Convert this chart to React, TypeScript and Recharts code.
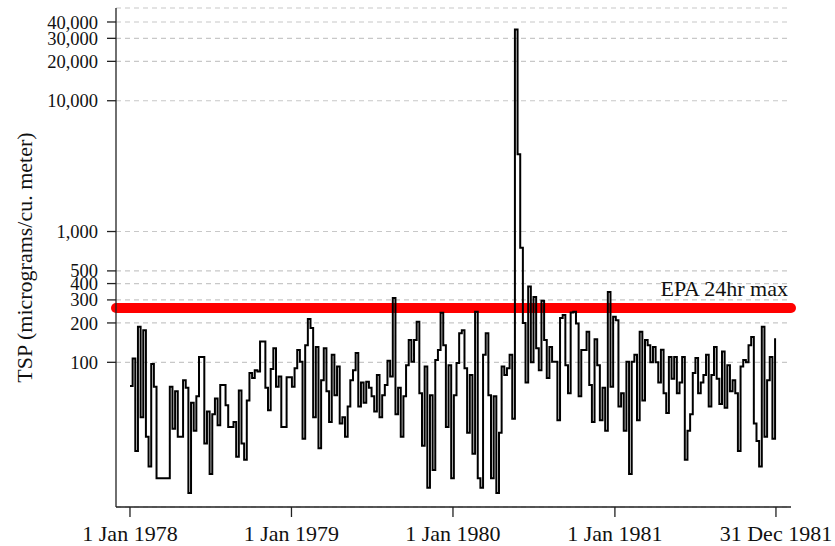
import React from 'react';
import { LineChart, Line, XAxis, YAxis, CartesianGrid, ReferenceLine } from 'recharts';

// TSP samples, one every 6 days starting 1 Jan 1978 (micrograms / cubic meter)
const sampleIntervalDays = 6;
const tspValues: number[] = [
  66, 107, 21, 187, 38, 176, 27, 16, 97, 65,
  13, 13, 13, 13, 13,
  65, 31, 60, 27, 27, 73, 64, 10,
  49, 30, 55, 110, 110, 24, 42, 14, 40, 53,
  33, 67, 67, 47, 32, 32, 35, 19, 61, 24,
  18, 51, 83, 76, 87, 85, 144, 144, 64, 43,
  89, 128, 65, 78, 32, 32, 77, 77, 65, 90,
  124, 101, 26, 135, 214, 183, 38, 131, 22, 73,
  128, 60, 35, 114, 56, 93, 34, 38, 27, 46,
  73, 87, 118, 46, 70, 49, 71, 64, 55, 42,
  80, 38, 56, 67, 103, 78,
  310, 40, 64, 27, 55, 95, 148, 101, 148, 204,
  58, 23, 93, 11, 56, 15, 104, 124, 239, 135,
  32, 95, 13, 56, 99, 167, 176, 90, 29, 80,
  20, 244, 13, 11, 114, 167, 56, 13, 55, 10,
  29, 93, 80, 90, 114, 37,
  35000, 3900, 750, 200, 70, 380, 100, 316, 128, 87,
  296, 148, 76, 131, 101, 101, 36, 218, 230, 95,
  58, 240, 244, 198, 55, 124, 124, 171, 67, 35,
  150, 95, 36, 64, 30, 345,
  65, 223, 210, 46, 58, 30, 101, 14, 101, 114,
  36, 171, 51, 148, 135, 100, 131, 100, 70, 125,
  58, 41, 110, 75, 110, 58, 70, 110,
  18, 30, 40, 83, 108, 58, 70, 80, 114, 46,
  80, 131, 75, 48, 121, 45, 95, 60, 73, 58,
  21, 93, 104, 100, 135, 156, 34, 25, 16, 187,
  27, 73, 110, 26, 153,
];

const xTickDays = [0, 365, 730, 1096, 1460];
const xTickLabels = ['1 Jan 1978', '1 Jan 1979', '1 Jan 1980', '1 Jan 1981', '31 Dec 1981'];
const yTicks = [100, 200, 300, 400, 500, 1000, 10000, 20000, 30000, 40000];
const epaLimit = 260;
const epaLabel = 'EPA 24hr max';
const yAxisTitle = 'TSP (micrograms/cu. meter)';

const data = tspValues.map((v, i) => ({ day: i * sampleIntervalDays, tsp: v }));

const FONT = '"Liberation Serif", "Times New Roman", serif';

const renderXTick = (props: any) => {
  const { x, y, payload } = props;
  const idx = xTickDays.indexOf(payload.value);
  return (
    <text x={x} y={y} dy="0.71em" textAnchor="middle" fontFamily={FONT} fontSize={22} fill="#111">
      {idx >= 0 ? xTickLabels[idx] : ''}
    </text>
  );
};

const renderYTick = (props: any) => {
  const { x, y, payload } = props;
  return (
    <text x={x} y={y} dy="0.355em" textAnchor="end" fontFamily={FONT} fontSize={18.5} fill="#111">
      {Number(payload.value).toLocaleString('en-US')}
    </text>
  );
};

const renderYTitle = (props: any) => {
  const vb = props && props.viewBox ? props.viewBox : { x: 0, y: 8, width: 116, height: 499 };
  const cx = vb.x + 24;
  const cy = vb.y + vb.height / 2;
  return (
    <text
      x={cx}
      y={cy}
      transform={`rotate(-90 ${cx} ${cy})`}
      textAnchor="middle"
      dominantBaseline="central"
      fontFamily={FONT}
      fontSize={22}
      fill="#111"
    >
      {yAxisTitle}
    </text>
  );
};

const renderEpaLabel = (props: any) => {
  const vb = props && props.viewBox ? props.viewBox : { x: 116, y: 308, width: 675, height: 0 };
  return (
    <text
      x={vb.x + vb.width - 3}
      y={vb.y - 12}
      textAnchor="end"
      fontFamily={FONT}
      fontSize={22}
      fill="#111"
    >
      {epaLabel}
    </text>
  );
};

export default function App() {
  return (
    <div style={{ position: 'absolute', left: 0, top: 0, width: 835, height: 546, background: '#fff' }}>
      <LineChart width={835} height={546} data={data} margin={{ top: 8, right: 44, bottom: 0, left: 0 }}>
        <CartesianGrid vertical={false} stroke="#c8c8c8" strokeDasharray="5 4" strokeWidth={1.2} />
        <XAxis
          dataKey="day"
          type="number"
          domain={[-31.6, 1494]}
          allowDataOverflow
          ticks={xTickDays}
          interval={0}
          height={39}
          tickSize={10}
          tickMargin={8}
          stroke="#222"
          strokeWidth={1.3}
          tick={renderXTick}
        />
        <YAxis
          scale="log"
          domain={[7.83, 51170]}
          allowDataOverflow
          ticks={yTicks}
          interval={0}
          width={116}
          tickSize={9}
          tickMargin={9}
          stroke="#222"
          strokeWidth={1.3}
          tick={renderYTick}
          label={renderYTitle}
        />
        <ReferenceLine
          y={epaLimit}
          stroke="#ff0000"
          strokeWidth={10}
          strokeLinecap="round"
          label={renderEpaLabel}
          zIndex={100}
        />
        <Line
          type="stepAfter"
          dataKey="tsp"
          stroke="#000"
          strokeWidth={2}
          dot={false}
          isAnimationActive={false}
        />
      </LineChart>
    </div>
  );
}
